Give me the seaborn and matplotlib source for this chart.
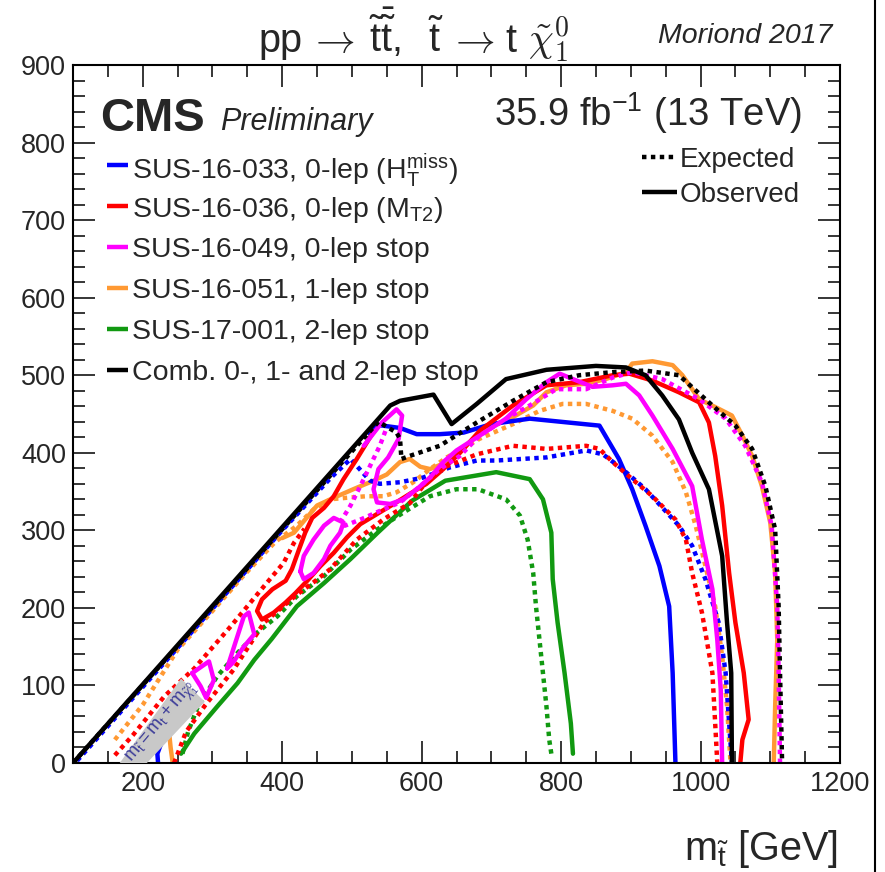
import matplotlib
matplotlib.use("Agg")
import numpy as np
import pandas as pd
import seaborn as sns
import matplotlib.pyplot as plt
from matplotlib.lines import Line2D
from matplotlib.patches import Polygon
from matplotlib.ticker import MultipleLocator

# ---------------- data ----------------
black_obs_x = [100, 555, 569, 617, 643, 679, 721, 779, 850, 893, 921, 945, 969, 988, 1012, 1031, 1038, 1044, 1045]
black_obs_y = [0, 461, 467, 475, 437, 463, 495, 507, 512, 510, 500, 474, 443, 400, 353, 267, 181, 116, 0]
black_exp_x = [100, 538, 564, 569, 571, 583, 626, 679, 731, 779, 826, 874, 921, 969, 1017, 1050, 1074, 1093, 1107, 1112, 1114, 1117]
black_exp_y = [0, 440, 426, 418, 392, 396, 409, 439, 467, 491, 500, 504, 506, 500, 461, 435, 405, 357, 301, 202, 116, 0]

blue_obs_x = [525, 536, 569, 593, 626, 660, 700, 755, 855, 883, 902, 921, 941, 955, 960, 964]
blue_obs_y = [425, 436, 432, 424, 424, 426, 437, 444, 435, 392, 353, 306, 254, 202, 116, 0]
blue_arc_x = [226, 221, 222]
blue_arc_y = [24, 12, 0]
blue_exp_x = [106, 400, 470, 498, 526, 540, 569, 602, 640, 679, 707, 779, 836, 860, 888, 921, 969, 988, 1007, 1026, 1036, 1045]
blue_exp_y = [3, 300, 368, 392, 364, 360, 362, 368, 381, 390, 390, 394, 403, 398, 379, 353, 306, 280, 237, 181, 116, 0]

red_obs_x = [532, 526, 507, 488, 474, 460, 443, 433, 424, 414, 405, 386, 371, 364, 371, 388, 405, 419, 436, 455, 474, 493,
             512, 536, 560, 583, 607, 631, 655, 683, 731, 779, 826, 874, 898, 931, 969, 998, 1012, 1021, 1031, 1041, 1050,
             1062, 1069, 1060, 1057]
red_obs_y = [428, 420, 392, 366, 344, 329, 316, 297, 275, 250, 235, 224, 211, 196, 185, 194, 207, 219, 235, 254, 271, 291,
             308, 321, 334, 347, 360, 379, 400, 428, 461, 487, 491, 500, 502, 493, 478, 465, 439, 396, 332, 245, 181,
             116, 56, 30, 0]
red_exp_a_x = [160, 186, 231, 274, 326, 374, 402, 417, 432]
red_exp_a_y = [10, 36, 86, 122, 176, 228, 258, 284, 302]
red_exp_b_x = [245, 262, 290, 330, 374, 421, 445, 469, 507, 545, 583, 602, 626, 679, 731, 779, 836, 855, 874, 902, 931,
               964, 979, 988, 1002, 1017, 1021, 1024]
red_exp_b_y = [0, 40, 75, 120, 181, 217, 233, 250, 288, 314, 335, 357, 379, 398, 409, 405, 409, 405, 388, 366, 344,
               314, 288, 245, 194, 116, 51, 0]

mag_obs_x = [517, 543, 564, 572, 567, 552, 538, 531, 536, 555, 574, 593, 612, 631, 650, 683, 721, 750, 779, 798, 817, 845,
             874, 893, 912, 931, 960, 988, 1002, 1017, 1024, 1029, 1031]
mag_obs_y = [409, 439, 456, 448, 418, 394, 379, 353, 336, 334, 340, 353, 368, 388, 403, 422, 444, 469, 491, 502, 495, 485,
             487, 489, 474, 448, 405, 357, 288, 224, 159, 94, 0]
mag_isl1_x = [426, 431, 445, 460, 474, 488, 483, 469, 460, 445, 431, 426]
mag_isl1_y = [247, 267, 288, 306, 316, 310, 297, 280, 263, 245, 237, 247]
mag_isl2_x = [321, 331, 345, 352, 360, 345, 329, 321]
mag_isl2_y = [122, 150, 189, 194, 166, 150, 129, 122]
mag_isl3_x = [271, 295, 302, 291, 283, 271]
mag_isl3_y = [116, 131, 107, 84, 99, 116]
mag_exp_x = [548, 540, 526, 512, 498, 483, 490, 515, 540, 569, 598, 626, 655, 683, 721, 755, 793, 836, 874, 902, 945, 998,
             1036, 1064, 1088, 1102, 1110, 1112, 1114]
mag_exp_y = [428, 409, 383, 357, 332, 310, 306, 315, 325, 336, 357, 379, 396, 422, 444, 461, 482, 482, 497, 504, 495, 469,
             444, 409, 362, 306, 202, 116, 0]

ora_obs_x = [400, 417, 450, 474, 502, 531, 550, 569, 583, 598, 612, 631, 650, 683, 731, 760, 779, 807, 836, 864, 893, 902,
             931, 960, 974, 998, 1021, 1045, 1060, 1074, 1088, 1100, 1107, 1110, 1107, 1105]
ora_obs_y = [290, 297, 332, 342, 353, 364, 372, 388, 392, 382, 379, 386, 397, 426, 446, 461, 478, 487, 489, 495, 504, 515,
             518, 513, 500, 469, 459, 448, 422, 396, 357, 310, 245, 159, 73, 0]
ora_bit_x = [243, 240, 238]
ora_bit_y = [0, 20, 38]
ora_exp_x = [160, 200, 250, 300, 345, 390, 421, 445, 469, 493, 521, 545, 564, 588, 612, 636, 683, 731, 769, 802, 836, 874,
             902, 931, 960, 979, 993, 1007, 1021, 1031, 1038, 1043]
ora_exp_y = [30, 75, 146, 196, 242, 285, 306, 327, 340, 342, 344, 344, 349, 362, 379, 394, 418, 437, 454, 463, 463, 454,
             444, 422, 388, 349, 306, 254, 202, 138, 73, 0]

grn_obs_x = [255, 274, 307, 336, 360, 385, 421, 460, 498, 537, 586, 634, 674, 707, 755, 774, 786, 788, 795, 805, 814, 817]
grn_obs_y = [12, 38, 73, 103, 133, 160, 202, 232, 263, 297, 338, 364, 370, 375, 366, 340, 297, 237, 181, 116, 51, 12]
grn_exp_x = [257, 265, 280, 307, 336, 364, 393, 421, 460, 498, 536, 574, 612, 650, 681, 693, 721, 741, 752, 760, 764, 769,
             774, 779, 783, 786]
grn_exp_y = [12, 40, 75, 112, 142, 168, 189, 215, 241, 275, 301, 323, 344, 353, 353, 349, 340, 319, 288, 245, 202, 159,
             116, 73, 30, 12]

band_x = [167, 206, 289, 255]
band_y = [0, 0, 79, 109]

legend_labels = [r"SUS-16-033, 0-lep (H$_{\mathrm{T}}^{\mathrm{miss}}$)",
                 r"SUS-16-036, 0-lep (M$_{\mathrm{T2}}$)",
                 "SUS-16-049, 0-lep stop",
                 "SUS-16-051, 1-lep stop",
                 "SUS-17-001, 2-lep stop",
                 "Comb. 0-, 1- and 2-lep stop"]
x_ticks = [200, 400, 600, 800, 1000, 1200]
y_ticks = [0, 100, 200, 300, 400, 500, 600, 700, 800, 900]

BLUE, RED, MAG, ORA, GRN, BLK = "#0000ff", "#ff0000", "#ff00ff", "#ff9933", "#119911", "#000000"
legend_colors = [BLUE, RED, MAG, ORA, GRN, BLK]

# ---------------- style ----------------
sns.set_style("ticks", {"xtick.direction": "in", "ytick.direction": "in"})
plt.rcParams['font.family'] = ['Liberation Sans', 'DejaVu Sans']
plt.rcParams['mathtext.fontset'] = 'custom'
plt.rcParams['mathtext.rm'] = 'Liberation Sans'
plt.rcParams['mathtext.it'] = 'Liberation Sans:italic'
plt.rcParams['mathtext.bf'] = 'Liberation Sans:bold'
plt.rcParams['mathtext.sf'] = 'Liberation Sans'

W, H = 885, 872
fig = plt.figure(figsize=(W / 100, H / 100), dpi=100)
fig.patch.set_facecolor("white")
L, R, T, B = 73, 840, 65, 763
ax = fig.add_axes([L / W, 1 - B / H, (R - L) / W, (B - T) / H])

LW = 3.2
DOT = (0, (1, 1))

curves = [
    (grn_exp_x, grn_exp_y, GRN, DOT),
    (grn_obs_x, grn_obs_y, GRN, "-"),
    (ora_exp_x, ora_exp_y, ORA, DOT),
    (ora_obs_x, ora_obs_y, ORA, "-"),
    (ora_bit_x, ora_bit_y, ORA, "-"),
    (blue_exp_x, blue_exp_y, BLUE, DOT),
    (blue_obs_x, blue_obs_y, BLUE, "-"),
    (blue_arc_x, blue_arc_y, BLUE, "-"),
    (red_exp_a_x, red_exp_a_y, RED, DOT),
    (red_exp_b_x, red_exp_b_y, RED, DOT),
    (red_obs_x, red_obs_y, RED, "-"),
    (mag_exp_x, mag_exp_y, MAG, DOT),
    (mag_obs_x, mag_obs_y, MAG, "-"),
    (mag_isl1_x, mag_isl1_y, MAG, "-"),
    (mag_isl2_x, mag_isl2_y, MAG, "-"),
    (mag_isl3_x, mag_isl3_y, MAG, "-"),
    (black_exp_x, black_exp_y, BLK, DOT),
    (black_obs_x, black_obs_y, BLK, "-"),
]
for xs, ys, col, ls in curves:
    df = pd.DataFrame({"x": xs, "y": ys})
    sns.lineplot(data=df, x="x", y="y", sort=False, estimator=None, color=col,
                 linewidth=LW, linestyle=ls, ax=ax)
for ln in ax.get_lines():
    ln.set_dash_capstyle("butt")
    ln.set_solid_joinstyle("round")

# grey band
ax.add_patch(Polygon(list(zip(band_x, band_y)), closed=True, facecolor="#c8c8c8",
                     edgecolor="none", zorder=5))
ax.text(227, 52, r"$\mathrm{m}_{\tilde{\mathrm{t}}} = \mathrm{m}_{\mathrm{t}} + \mathrm{m}_{\tilde{\chi}^{0}_{1}}$",
        color="#3d3d99", fontsize=13, rotation=50, ha="center", va="center", zorder=6)

ax.set_xlim(100, 1200)
ax.set_ylim(0, 900)
ax.set_xticks(x_ticks)
ax.set_yticks(y_ticks)
ax.xaxis.set_minor_locator(MultipleLocator(50))
ax.yaxis.set_minor_locator(MultipleLocator(20))
ax.tick_params(which="both", direction="in", top=True, right=True, width=1.1, color="black")
ax.tick_params(which="major", length=16)
ax.tick_params(which="minor", length=8.5)
ax.tick_params(axis="x", which="major", labelsize=19.5, pad=6)
ax.tick_params(axis="y", which="major", labelsize=19.5, pad=5)
ax.set_xlabel("")
ax.set_ylabel("")
for s in ax.spines.values():
    s.set_linewidth(1.5)
    s.set_color("black")
    s.set_visible(True)


def fx(px):
    return px / W


def fy(py):
    return 1 - py / H


# title, composed of pieces
TS = 28.5
fig.text(fx(258), fy(52), "pp", fontsize=TS, ha="left", va="baseline")
fig.text(fx(309), fy(52), r"$\rightarrow$", fontsize=TS, ha="left", va="baseline", math_fontfamily="cm")
fig.text(fx(369), fy(52), r"$\tilde{\mathrm{t}}\bar{\tilde{\mathrm{t}}}$,", fontsize=TS, ha="left", va="baseline")
fig.text(fx(428), fy(52), r"$\tilde{\mathrm{t}}$", fontsize=TS, ha="left", va="baseline")
fig.text(fx(449), fy(52), r"$\rightarrow$", fontsize=TS, ha="left", va="baseline", math_fontfamily="cm")
fig.text(fx(505), fy(52), "t", fontsize=TS, ha="left", va="baseline")
fig.text(fx(528), fy(52), r"$\tilde{\chi}^{0}_{1}$", fontsize=TS, ha="left", va="baseline", math_fontfamily="cm")

fig.text(fx(833), fy(43), "Moriond 2017", fontsize=20.5, style="italic", ha="right", va="baseline")
fig.text(fx(100), fy(131), "CMS", fontsize=34, weight="bold", ha="left", va="baseline")
fig.text(fx(220), fy(130), "Preliminary", fontsize=22, style="italic", ha="left", va="baseline")
fig.text(fx(802), fy(126), r"35.9 fb$^{\mathrm{-1}}$ (13 TeV)", fontsize=27.5, ha="right", va="baseline")
fig.text(fx(838), fy(860), r"m$_{\tilde{\mathrm{t}}}$ [GeV]", fontsize=28.5, ha="right", va="baseline")

# legend (analyses)
for i, (lab, col) in enumerate(zip(legend_labels, legend_colors)):
    yc = 165 + 41 * i
    fig.add_artist(Line2D([fx(107), fx(128)], [fy(yc), fy(yc)], color=col, lw=LW,
                          transform=fig.transFigure, solid_capstyle="butt"))
    fig.text(fx(132), fy(yc), lab, fontsize=20.5, ha="left", va="center_baseline")

# legend (expected / observed)
for yc, lab, ls in [(157, "Expected", DOT), (192, "Observed", "-")]:
    fig.add_artist(Line2D([fx(642), fx(677)], [fy(yc), fy(yc)], color="black", lw=LW, linestyle=ls,
                          transform=fig.transFigure, solid_capstyle="butt", dash_capstyle="butt"))
    fig.text(fx(680), fy(yc), lab, fontsize=20, ha="left", va="center_baseline")

# outer frame line at right of screenshot
fig.add_artist(Line2D([fx(875), fx(875)], [0, 1], color="black", lw=1.5, transform=fig.transFigure))

fig.savefig("out.png", dpi=100, facecolor="white")
